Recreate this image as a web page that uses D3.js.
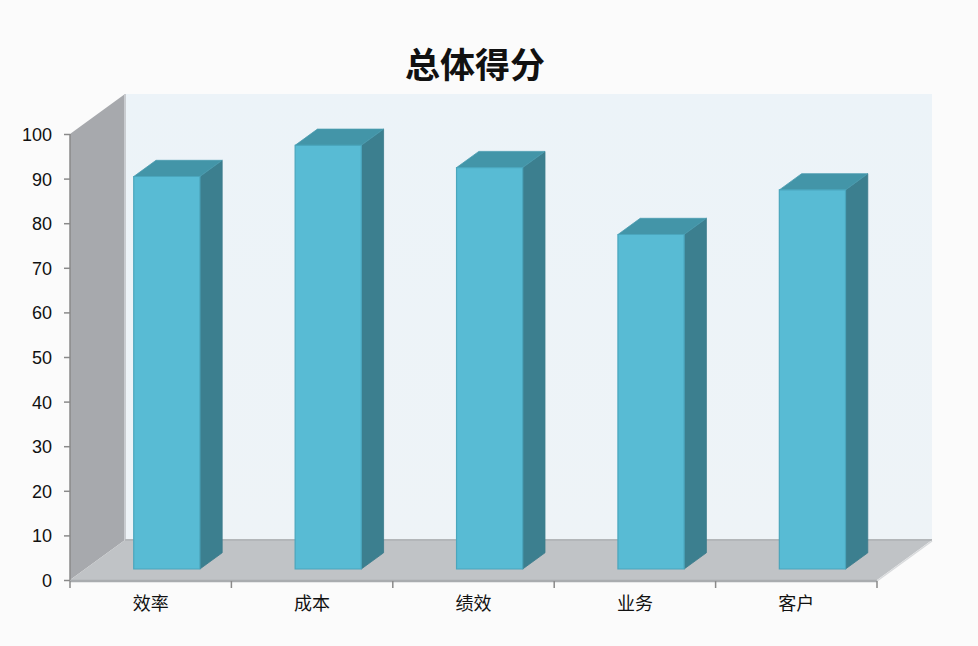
<!DOCTYPE html>
<html lang="zh">
<head>
  <meta charset="UTF-8">
  <title>总体得分</title>
  <style>
    *{ margin:0; padding:0; box-sizing:border-box }
    html, body { width:100%; height:100%; background:#fbfbfb; overflow:hidden }
    svg { position:absolute; top:0; left:0 }
    .title { font-family:"Noto Sans CJK SC", sans-serif; font-weight:bold; font-size:35px; fill:#111 }
    .yax text { font-family:"Liberation Sans", Arial, sans-serif; font-size:18px; fill:#111 }
    .xax text { font-family:"Noto Sans CJK SC", sans-serif; font-size:18px; fill:#111 }
    .yax path, .yax line, .xtick { stroke:#8a8a8a; stroke-width:1.5 }
  </style>
  <script src="https://cdn.jsdelivr.net/npm/d3@7/dist/d3.min.js"></script>
</head>
<body>
  <svg id="chart"></svg>
  <script>
    // data
    const categories = ["效率", "成本", "绩效", "业务", "客户"];
    const scores     = [88, 95, 90, 75, 85];
    const yTicks     = [0, 10, 20, 30, 40, 50, 60, 70, 80, 90, 100];

    const W = 978, H = 646;
    const svg = d3.select("#chart").attr("width", W).attr("height", H);

    // front plane scales
    const x = d3.scaleBand().domain(categories).range([70, 877]);
    const y = d3.scaleLinear().domain([0, 100]).range([580, 134]);

    // depth of the 3d box, z from 0 (front) to 1 (back)
    const DX = 55, DY = -40;
    const P = (px, py, z) => [px + z*DX, py + z*DY];
    const poly = pts => pts.map(p => p.join(",")).join(" ");

    // title
    svg.append("text").attr("class","title")
      .attr("x", 475).attr("y", 78).attr("text-anchor","middle")
      .text("总体得分");

    const [x0, x1] = x.range();

    // back wall
    const grad = svg.append("defs").append("linearGradient")
      .attr("id","wallG").attr("x1",0).attr("y1",0).attr("x2",0).attr("y2",1);
    grad.append("stop").attr("offset","0%").attr("stop-color","#ecf3f8");
    grad.append("stop").attr("offset","100%").attr("stop-color","#eef3f7");
    svg.append("polygon")
      .attr("points", poly([P(x0,y(100),1), P(x1,y(100),1), P(x1,y(0),1), P(x0,y(0),1)]))
      .attr("fill","url(#wallG)");

    // left wall
    svg.append("polygon")
      .attr("points", poly([P(x0,y(100),0), P(x0,y(100),1), P(x0,y(0),1), P(x0,y(0),0)]))
      .attr("fill","#a7a9ad");
    svg.append("line")
      .attr("x1", P(x0,y(100),1)[0]).attr("y1", P(x0,y(100),1)[1])
      .attr("x2", P(x0,y(0),1)[0]).attr("y2", P(x0,y(0),1)[1])
      .attr("stroke","#c9ccd0").attr("stroke-width",2);

    // floor
    svg.append("polygon")
      .attr("points", poly([P(x0,y(0),0), P(x1,y(0),0), P(x1,y(0),1), P(x0,y(0),1)]))
      .attr("fill","#c0c3c6");
    svg.append("line")
      .attr("x1", P(x0,y(0),1)[0]).attr("y1", P(x0,y(0),1)[1])
      .attr("x2", P(x1,y(0),1)[0]).attr("y2", P(x1,y(0),1)[1])
      .attr("stroke","#b3b6b9").attr("stroke-width",2);
    svg.append("line")
      .attr("x1", x0).attr("y1", y(0)+1).attr("x2", x1).attr("y2", y(0)+1)
      .attr("stroke","#a9acaf").attr("stroke-width",2.5);
    svg.append("line")
      .attr("x1", x1).attr("y1", y(0)+1).attr("x2", P(x1,y(0),1)[0]).attr("y2", P(x1,y(0),1)[1]+1)
      .attr("stroke","#d8dadc").attr("stroke-width",1.5);

    // bars
    const z1 = 0.275, z2 = 0.68, half = x.bandwidth()*0.205;
    const bars = svg.append("g").selectAll("g").data(categories).join("g");
    bars.each(function(c, i){
      const g = d3.select(this);
      const cx = x(c) + x.bandwidth()/2 + 1;
      const l = cx - half, r = cx + half, b = y(0), t = y(scores[i]);
      // side
      g.append("polygon")
        .attr("points", poly([P(r,t,z1), P(r,t,z2), P(r,b,z2), P(r,b,z1)]))
        .attr("fill","#3c7f8f").attr("stroke","#3a7a8a").attr("stroke-width",0.8);
      // top
      g.append("polygon")
        .attr("points", poly([P(l,t,z1), P(l,t,z2), P(r,t,z2), P(r,t,z1)]))
        .attr("fill","#4395a8").attr("stroke","#4a9cb0").attr("stroke-width",0.8);
      // front
      g.append("polygon")
        .attr("points", poly([P(l,t,z1), P(r,t,z1), P(r,b,z1), P(l,b,z1)]))
        .attr("fill","#58bbd4").attr("stroke","#4aa6bd").attr("stroke-width",1.2);
    });

    // y axis
    const yAxis = svg.append("g").attr("class","yax")
      .attr("transform", `translate(${x0},0)`)
      .call(d3.axisLeft(y).tickValues(yTicks).tickSize(6).tickPadding(12));
    yAxis.select(".domain").attr("d", `M0,${y(100)}V${y(0)}`);
    yAxis.selectAll("text").attr("dy","0.36em");

    // x axis: labels at band centres, ticks at band edges
    const edges = categories.map(c => x(c)).concat([x1]);
    svg.append("g").selectAll("line").data(edges).join("line")
      .attr("class","xtick")
      .attr("x1", d => d).attr("x2", d => d)
      .attr("y1", y(0)+1).attr("y2", y(0)+8);
    const xAxis = svg.append("g").attr("class","xax")
      .attr("transform", `translate(0,${y(0)})`)
      .call(d3.axisBottom(x).tickSize(0).tickPadding(17));
    xAxis.select(".domain").remove();
  </script>
</body>
</html>
